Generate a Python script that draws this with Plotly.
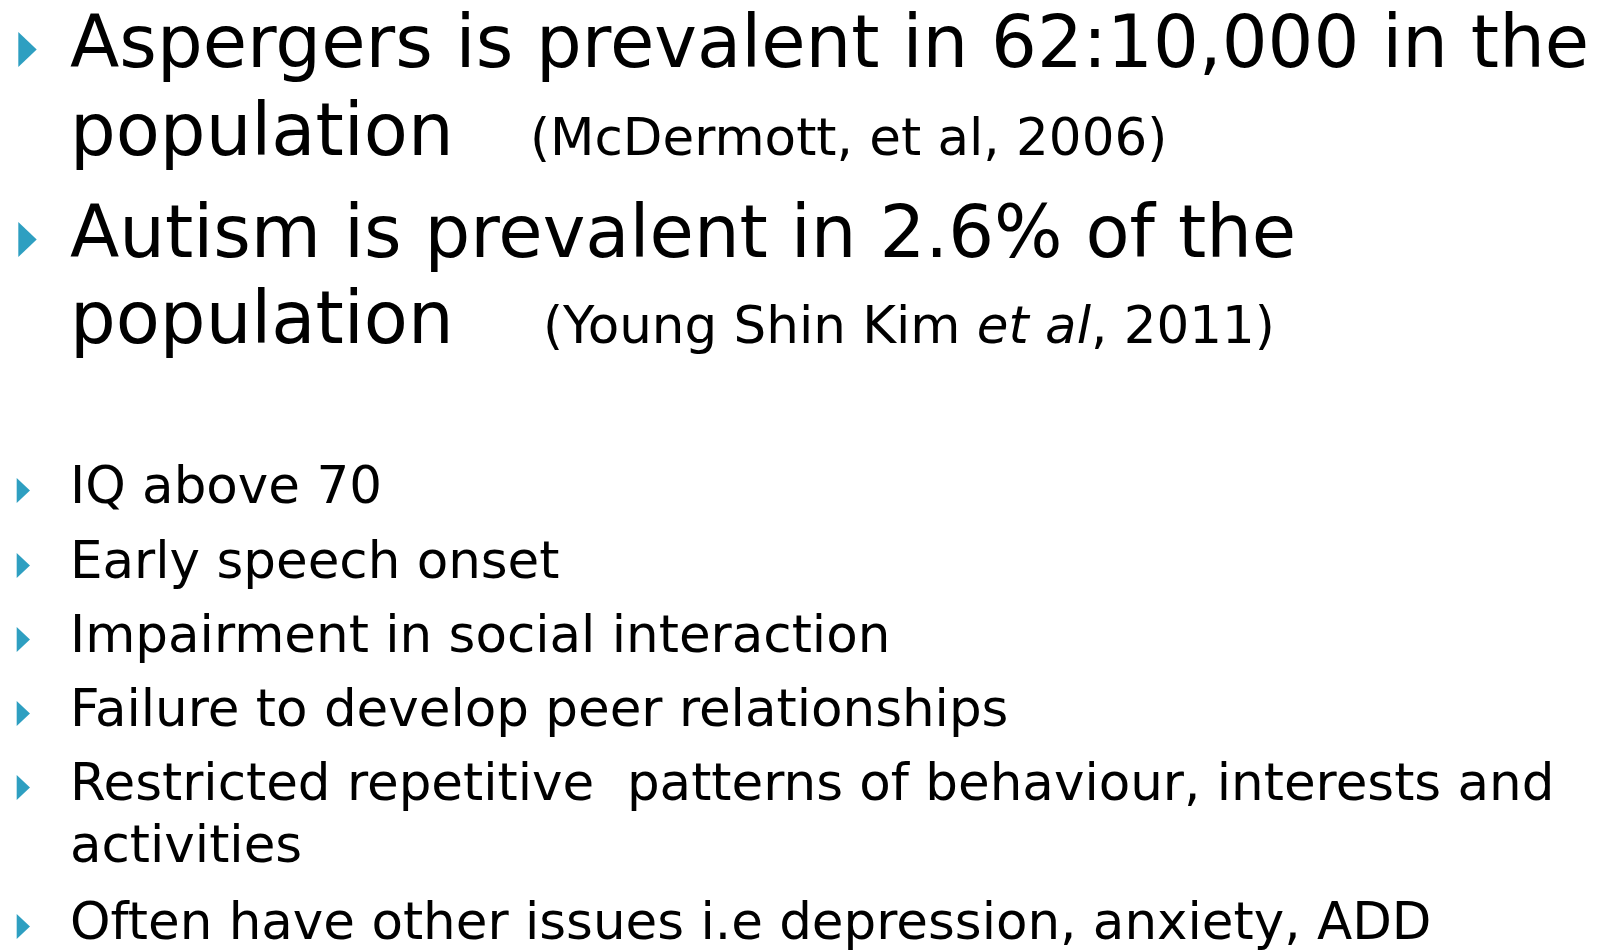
import plotly.graph_objects as go

# ---- content (text data) ----
heading_texts = [
    "Aspergers is prevalent in 62:10,000 in the",
    "population",
    "Autism is prevalent in 2.6% of the",
    "population",
]
citation_texts = [
    "(McDermott, et al, 2006)",
    "(Young Shin Kim <i>et al</i>, 2011)",
]
point_texts = [
    "IQ above 70",
    "Early speech onset",
    "Impairment in social interaction",
    "Failure to develop peer relationships",
    "Restricted repetitive \u00a0patterns of behaviour, interests and",
    "activities",
    "Often have other issues i.e depression, anxiety, ADD",
]
heading_bullet_flags = [True, False, True, False]
point_bullet_flags = [True, True, True, True, True, False, True]

# ---- layout (pixel geometry of the slide, in page pixels) ----
W, H = 1616, 950
PAGE_OFF = 8  # default body margin of the html page
FONT = "DejaVu Sans"
BIG, SMALL = 72.1, 51.5
TEXT_X = 70
heading_baselines = [67, 155, 257, 343]
citation_x = [530, 543]
citation_rows = [1, 3]
point_baselines = [503, 578, 652, 726, 800, 862, 939]
BULLET_COLOR = "#2E9FC1"

fig = go.Figure()
annotations = []
shapes = []

def add_line(text, baseline, size, x):
    annotations.append(dict(
        x=x, y=baseline - 0.346 * size, xref="x", yref="y",
        text=text, showarrow=False, xanchor="left", yanchor="middle",
        font=dict(family=FONT, size=size, color="black"),
        borderpad=0, borderwidth=0,
    ))

def add_bullet(baseline, x0, x1, top, bottom):
    y0, y1 = baseline - top, baseline + bottom
    shapes.append(dict(
        type="path", xref="x", yref="y",
        path=f"M{x0},{y0} L{x1},{(y0 + y1) / 2} L{x0},{y1} Z",
        fillcolor=BULLET_COLOR, line=dict(width=0), layer="above",
    ))

for t, b, f in zip(heading_texts, heading_baselines, heading_bullet_flags):
    add_line(t, b, BIG, TEXT_X)
    if f:
        add_bullet(b, 18.3, 36.7, 35, 0)
for t, x, r in zip(citation_texts, citation_x, citation_rows):
    add_line(t, heading_baselines[r], SMALL, x)
for t, b, f in zip(point_texts, point_baselines, point_bullet_flags):
    add_line(t, b, SMALL, TEXT_X)
    if f:
        add_bullet(b, 16.7, 30, 25, 0)

fig.add_trace(go.Scatter(x=[], y=[], mode="markers", showlegend=False))

fig.update_layout(
    width=W, height=H, margin=dict(l=0, r=0, t=0, b=0),
    paper_bgcolor="white", plot_bgcolor="white",
    xaxis=dict(range=[PAGE_OFF, W + PAGE_OFF], visible=False, fixedrange=True),
    yaxis=dict(range=[H + PAGE_OFF, PAGE_OFF], visible=False, fixedrange=True),
    annotations=annotations, shapes=shapes, showlegend=False,
)
fig.write_html("out.html")
